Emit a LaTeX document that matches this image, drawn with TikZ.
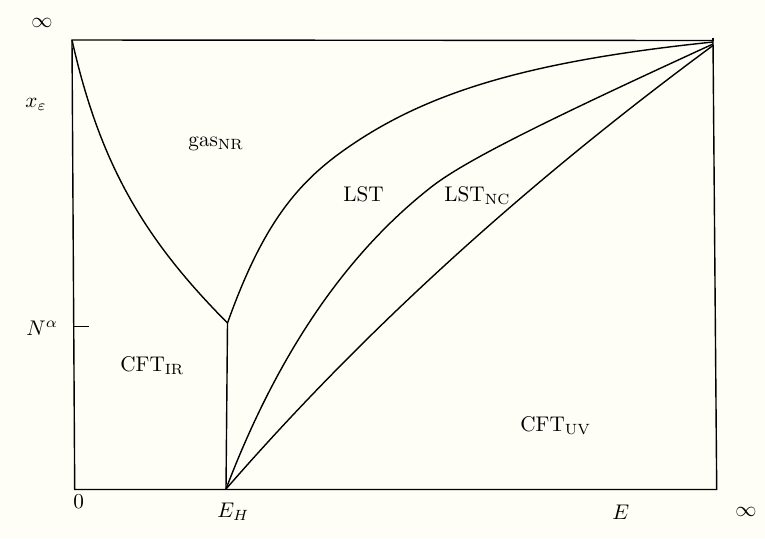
\documentclass[tikz,border=0pt]{standalone}
\begin{document}
\begin{tikzpicture}[x=0.5pt,y=-0.5pt,
  ln/.style={line width=0.7pt,black},
  txt/.style={inner sep=0pt,scale=1.06},
  lbl/.style={txt,anchor=base west}]
\definecolor{bg}{RGB}{254,254,246}
\fill[bg] (0,0) rectangle (765,538);
\useasboundingbox (0,0) rectangle (765,538);
% frame corners
\coordinate (TL) at (72,40);
\coordinate (TR) at (713,40.5);
\coordinate (BR) at (716.7,489.5);
\coordinate (BL) at (74.7,489.5);
\coordinate (EH) at (226,489);
\coordinate (J) at (227.5,323);
\coordinate (M) at (340,153);
\coordinate (M2) at (430,188);
\coordinate (T1) at (713,42);
\coordinate (T2) at (713,44);
\coordinate (T3) at (713,45.5);
\coordinate (tickA) at (74.2,326.7);
\coordinate (tickB) at (89,326.7);
\draw[ln] (TL) -- (TR) -- (BR) -- (BL) -- cycle;
\draw[ln] (713,37.5) -- (TR);
\draw[ln] (tickA) -- (tickB);
% boundaries
\draw[ln] (TL) .. controls (100,165) and (145,240) .. (J);
\draw[ln] (J) -- (EH);
\draw[ln] (J) .. controls (260,232) and (292,188) .. (M)
              .. controls (420,95) and (520,62) .. (T1);
\draw[ln] (EH) .. controls (277,355) and (345,255) .. (M2)
               .. controls (462,162.5) and (537,124.7) .. (T2);
\draw[ln] (EH) .. controls (362,332.6) and (524.3,184.6) .. (T3);
% labels
\node[txt] (inftop) at (42,22.5) {$\infty$};
\node[lbl] (xeps) at (25,107) {$x_\varepsilon$};
\node[lbl] (Nal) at (26,335) {$N^\alpha$};
\node[lbl] (zero) at (73,508) {$0$};
\node[lbl] (EHl) at (217,517) {$E_H$};
\node[lbl] (El) at (612,519) {$E$};
\node[txt] (infr) at (746,512) {$\infty$};
\node[lbl] (gas) at (188,146.5) {gas$_{\mathrm{NR}}$};
\node[lbl] (lst) at (343,201.5) {LST};
\node[lbl] (lstnc) at (444,201.5) {LST$_{\mathrm{NC}}$};
\node[lbl] (cftir) at (120,371.5) {CFT$_{\mathrm{IR}}$};
\node[lbl] (cftuv) at (520,431) {CFT$_{\mathrm{UV}}$};
\end{tikzpicture}
\end{document}
